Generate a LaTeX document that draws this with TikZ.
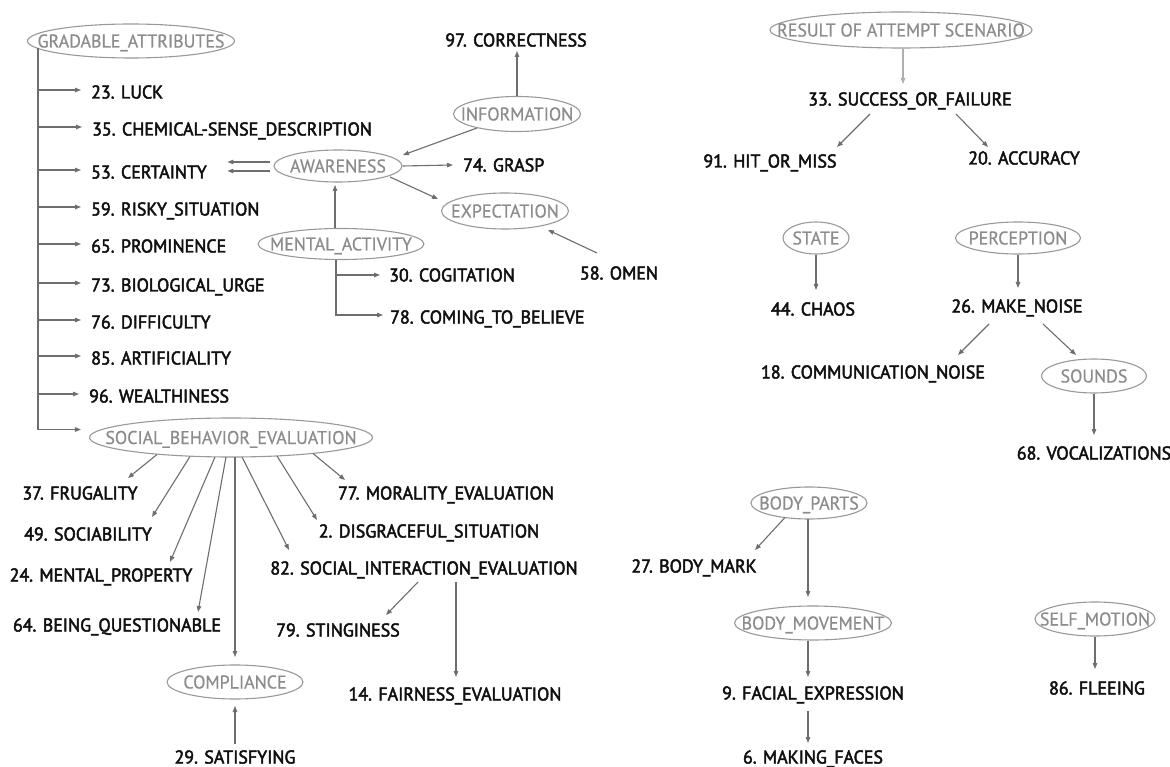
\documentclass[tikz,border=0pt]{standalone}
\usepackage{fontspec}
\setmainfont{PT Sans}
\newfontfamily\labfont{PT Sans}[FakeStretch=0.97,FakeBold=2.6]
\newfontfamily\ellfont{PT Sans}[FakeStretch=0.97,FakeBold=0.6]
\usetikzlibrary{arrows.meta,shapes.geometric}
\definecolor{labtext}{HTML}{111111}
\definecolor{elltext}{HTML}{8C8C8C}
\definecolor{ellline}{HTML}{999999}
\definecolor{arrcol}{HTML}{6E6E6E}
\definecolor{arrlight}{HTML}{B0B0B0}
\newcommand{\ctext}[1]{\makebox[0pt]{#1}}
\tikzset{
  lab/.style={font=\labfont\fontsize{18.5}{20}\selectfont, text=labtext,
    inner sep=0pt, text height=13pt, text depth=0pt},
  ell/.style={ellipse, draw=ellline, line width=1.1pt,
    font=\ellfont\fontsize{18.5}{20}\selectfont, text=elltext,
    inner sep=0pt, text height=13pt, text depth=0pt},
  arr/.style={draw=arrcol, line width=1.1pt, -{Triangle[length=6pt,width=4.5pt]}},
  arrl/.style={arr, draw=arrlight, -{Triangle[length=6pt,width=4.5pt,color=arrlight]}},
}
\begin{document}
\begin{tikzpicture}[x=1pt,y=-1pt]
\fill[white] (0,0) rectangle (1170,767);
\useasboundingbox (0,0) rectangle (1170,767);

% ---------- gradable attributes tree ----------
\node[ell, minimum width=207pt, minimum height=34pt] (grad) at (131,41) {\ctext{GRADABLE\_ATTRIBUTES}};
\node[lab, anchor=west] (luck)  at (91,92)  {23. LUCK};
\node[lab, anchor=west] (chem)  at (92,129) {35. CHEMICAL-SENSE\_DESCRIPTION};
\node[lab, anchor=west] (cert)  at (91,172) {53. CERTAINTY};
\node[lab, anchor=west] (risky) at (91,209) {59. RISKY\_SITUATION};
\node[lab, anchor=west] (prom)  at (91,246) {65. PROMINENCE};
\node[lab, anchor=west] (bio)   at (91,285) {73. BIOLOGICAL\_URGE};
\node[lab, anchor=west] (diff)  at (91,322) {76. DIFFICULTY};
\node[lab, anchor=west] (arti)  at (91,358) {85. ARTIFICIALITY};
\node[lab, anchor=west] (weal)  at (89,396) {96. WEALTHINESS};
\node[ell, minimum width=283pt, minimum height=39pt] (soc) at (231,437.5) {\ctext{SOCIAL\_BEHAVIOR\_EVALUATION}};

\coordinate (trunk) at ([shift={(-93,7)}]grad.center);
\draw[arr] (trunk) |- ([shift={(-8,-8)}]soc.west);
\foreach \n in {luck,chem,cert,risky,prom,bio,diff,arti,weal}
  \draw[arr] ([yshift=2pt]trunk |- \n.west) -- ([shift={(-10,-2)}]\n.west);

% ---------- social behaviour fan ----------
\node[lab] (frug)  at (80,493)  {37. FRUGALITY};
\node[lab] (socia) at (88,534)  {49. SOCIABILITY};
\node[lab] (mentp) at (101,575) {24. MENTAL\_PROPERTY};
\node[lab] (being) at (117,625) {64. BEING\_QUESTIONABLE};
\node[ell, minimum width=136pt, minimum height=34pt] (compl) at (235,682) {\ctext{COMPLIANCE}};
\node[lab] (sat)   at (235,757) {29. SATISFYING};
\node[lab] (mor)   at (446,493) {77. MORALITY\_EVALUATION};
\node[lab] (dis)   at (429,531) {2. DISGRACEFUL\_SITUATION};
\node[lab] (si)    at (424,568) {82. SOCIAL\_INTERACTION\_EVALUATION};
\node[lab] (sting) at (338,630) {79. STINGINESS};
\node[lab] (fair)  at (455,694) {14. FAIRNESS\_EVALUATION};

\draw[arr] ([shift={(-74,17)}]soc.center) -- ([shift={(48,-15)}]frug.center);
\draw[arr] ([shift={(-41,19)}]soc.center) -- ([shift={(64,-17)}]socia.center);
\draw[arr] ([shift={(-16,19.5)}]soc.center) -- ([shift={(69,-13)}]mentp.center);
\draw[arr] ([shift={(-5,19.5)}]soc.center) -- ([shift={(81,-13)}]being.center);
\draw[arr] ([shift={(4,19.5)}]soc.center) -- ([shift={(0,-25)}]compl.center);
\draw[arr] ([shift={(11,19.5)}]soc.center) -- ([shift={(-135,-18)}]si.center);
\draw[arr] ([shift={(46,18.5)}]soc.center) -- ([shift={(-112,-11)}]dis.center);
\draw[arr] ([shift={(82,16)}]soc.center) -- ([shift={(-101,-13)}]mor.center);
\draw[arr] ([shift={(-6,14)}]si.center) -- ([shift={(48,-15)}]sting.center);
\draw[arr] ([shift={(32,14)}]si.center) -- ([shift={(1,-17)}]fair.center);
\draw[arr] ([shift={(0,-13)}]sat.center) -- ([shift={(0,24)}]compl.center);

% ---------- awareness cluster ----------
\node[lab] (corr) at (516,40) {97. CORRECTNESS};
\node[ell, minimum width=127pt, minimum height=35pt] (info) at (517,114) {\ctext{INFORMATION}};
\node[ell, minimum width=128pt, minimum height=32pt] (aw) at (338,166) {\ctext{AWARENESS}};
\node[lab, anchor=west] (grasp) at (463,165) {74. GRASP};
\node[ell, minimum width=127pt, minimum height=36pt] (exp) at (505,211) {\ctext{EXPECTATION}};
\node[lab] (omen) at (619,273) {58. OMEN};
\node[ell, minimum width=166pt, minimum height=31pt] (ma) at (341,244) {\ctext{MENTAL\_ACTIVITY}};
\node[lab, anchor=west] (cog) at (389,275) {30. COGITATION};
\node[lab, anchor=west] (bel) at (390,317) {78. COMING\_TO\_BELIEVE};

\draw[arr] (info.north) -- ([shift={(1,11)}]corr.center);
\draw[arr] ([shift={(-40,14)}]info.center) -- ([shift={(65,-11)}]aw.center);
\draw[arr] (aw.east) -- ([xshift=-10pt]grasp.west);
\draw[arr] ([shift={(52,11)}]aw.center) -- ([shift={(-67,-12)}]exp.center);
\draw[arr] ([shift={(-22,-20)}]omen.center) -- ([shift={(43,19)}]exp.center);
\draw[arr] ([shift={(-6,-16)}]ma.center) -- ([shift={(-3,19)}]aw.center);
\draw[arr] ([shift={(-3,-4)}]aw.west) -- ([shift={(-46,-4)}]aw.west);
\draw[arr] ([shift={(-3,5)}]aw.west) -- ([shift={(-46,5)}]aw.west);
\draw[arr] ([xshift=-5pt]ma.south) |- ([xshift=-9pt]cog.west);
\draw[arr] ([xshift=-5pt]ma.south) |- ([shift={(-7,-2)}]bel.west);

% ---------- attempt scenario ----------
\node[ell, minimum width=262pt, minimum height=36pt] (res) at (901,30) {\ctext{RESULT OF ATTEMPT SCENARIO}};
\node[lab] (suc) at (910,99) {33. SUCCESS\_OR\_FAILURE};
\node[lab] (hit) at (770,161) {91. HIT\_OR\_MISS};
\node[lab] (acc) at (1024,158) {20. ACCURACY};
\draw[arrl] ([xshift=2pt]res.south) -- ([shift={(-7,-15)}]suc.center);
\draw[arr] ([shift={(-40,15)}]suc.center) -- ([shift={(67,-14)}]hit.center);
\draw[arr] ([shift={(46,15)}]suc.center) -- ([shift={(-36,-11)}]acc.center);

% ---------- state / perception ----------
\node[ell, minimum width=66pt, minimum height=32pt] (state) at (816,238) {\ctext{STATE}};
\node[lab] (chaos) at (813,309) {44. CHAOS};
\node[ell, minimum width=125pt, minimum height=32pt] (perc) at (1018,238) {\ctext{PERCEPTION}};
\node[lab] (mk) at (1017,306) {26. MAKE\_NOISE};
\node[lab] (comm) at (873,372) {18. COMMUNICATION\_NOISE};
\node[ell, minimum width=105pt, minimum height=34pt] (snd) at (1094,376) {\ctext{SOUNDS}};
\node[lab] (voc) at (1094,453) {68. VOCALIZATIONS};
\draw[arr] (state.south) -- ([shift={(3,-19)}]chaos.center);
\draw[arr] (perc.south) -- ([shift={(1,-18)}]mk.center);
\draw[arr] ([shift={(-28,18)}]mk.center) -- ([shift={(85,-17)}]comm.center);
\draw[arr] ([shift={(26,18)}]mk.center) -- ([shift={(-18,-21)}]snd.center);
\draw[arr] (snd.south) -- ([shift={(0,-18)}]voc.center);

% ---------- body ----------
\node[ell, minimum width=116pt, minimum height=32pt] (bp) at (809,503) {\ctext{BODY\_PARTS}};
\node[lab] (bmark) at (694,566) {27. BODY\_MARK};
\node[ell, minimum width=157pt, minimum height=34pt] (bmv) at (813,623) {\ctext{BODY\_MOVEMENT}};
\node[lab] (fe) at (813,693) {9. FACIAL\_EXPRESSION};
\node[lab] (mf) at (813,757) {6. MAKING\_FACES};
\draw[arr] ([shift={(-24,14.5)}]bp.center) -- ([shift={(61,-16)}]bmark.center);
\draw[arr] ([shift={(-1,16)}]bp.center) -- ([shift={(-5,-26)}]bmv.center);
\draw[arr] ([shift={(-5,18)}]bmv.center) -- ([shift={(-5,-16)}]fe.center);
\draw[arr] ([shift={(-5,18)}]fe.center) -- ([shift={(-5,-14)}]mf.center);

% ---------- self motion ----------
\node[ell, minimum width=120pt, minimum height=34pt] (sm) at (1095,619) {\ctext{SELF\_MOTION}};
\node[lab] (flee) at (1097,688) {86. FLEEING};
\draw[arr] (sm.south) -- ([shift={(-2,-19)}]flee.center);
\end{tikzpicture}
\end{document}
